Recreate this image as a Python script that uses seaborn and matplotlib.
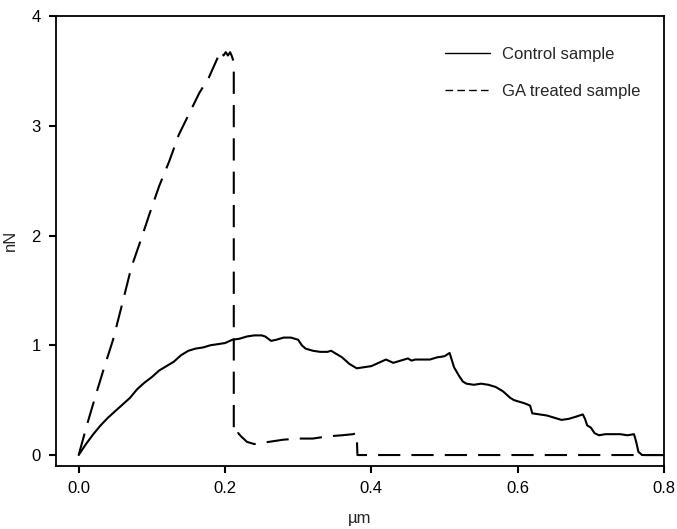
import matplotlib
matplotlib.use("Agg")
import matplotlib.pyplot as plt
from matplotlib.lines import Line2D
import seaborn as sns
import pandas as pd

# ---- data ----
control_x = [0, 0.01, 0.02, 0.03, 0.04, 0.05, 0.06, 0.07, 0.08, 0.09,
             0.10, 0.11, 0.12, 0.13, 0.14, 0.15, 0.16, 0.17, 0.18, 0.19,
             0.20, 0.21, 0.22, 0.23, 0.24, 0.25, 0.255, 0.263, 0.27, 0.28,
             0.29, 0.30, 0.305, 0.31, 0.32, 0.33, 0.34, 0.345, 0.35, 0.36,
             0.37, 0.38, 0.39, 0.40, 0.41, 0.42, 0.43, 0.435, 0.44, 0.45,
             0.455, 0.46, 0.47, 0.48, 0.49, 0.50, 0.507, 0.513, 0.52, 0.525,
             0.53, 0.54, 0.55, 0.56, 0.57, 0.58, 0.59, 0.595, 0.60, 0.61,
             0.617, 0.62, 0.63, 0.64, 0.65, 0.66, 0.67, 0.68, 0.689, 0.692,
             0.695, 0.70, 0.705, 0.711, 0.72, 0.73, 0.74, 0.75, 0.759, 0.762,
             0.765, 0.77, 0.78, 0.80]
control_y = [0, 0.10, 0.19, 0.27, 0.34, 0.40, 0.46, 0.52, 0.60, 0.66,
             0.71, 0.77, 0.81, 0.85, 0.91, 0.95, 0.97, 0.98, 1.00, 1.01,
             1.02, 1.05, 1.06, 1.08, 1.09, 1.09, 1.08, 1.04, 1.05, 1.07,
             1.07, 1.05, 1.00, 0.97, 0.95, 0.94, 0.94, 0.95, 0.93, 0.89,
             0.83, 0.79, 0.80, 0.81, 0.84, 0.87, 0.84, 0.85, 0.86, 0.88,
             0.86, 0.87, 0.87, 0.87, 0.89, 0.90, 0.93, 0.80, 0.72, 0.67,
             0.65, 0.64, 0.65, 0.64, 0.62, 0.58, 0.52, 0.50, 0.49, 0.47,
             0.45, 0.38, 0.37, 0.36, 0.34, 0.32, 0.33, 0.35, 0.37, 0.33,
             0.27, 0.25, 0.20, 0.18, 0.19, 0.19, 0.19, 0.18, 0.19, 0.12,
             0.03, 0.0, 0.0, 0.0]

ga_x = [0, 0.012, 0.024, 0.035, 0.047, 0.06, 0.072, 0.085, 0.097, 0.11,
        0.124, 0.137, 0.151, 0.165, 0.178, 0.186, 0.192, 0.195, 0.198, 0.201,
        0.204, 0.207, 0.209, 0.211, 0.212, 0.212, 0.214, 0.218, 0.222, 0.23,
        0.24, 0.25, 0.26, 0.28, 0.30, 0.32, 0.34, 0.36, 0.375, 0.380,
        0.381, 0.80]
ga_y = [0, 0.29, 0.56, 0.80, 1.05, 1.39, 1.71, 1.96, 2.20, 2.45,
        2.68, 2.92, 3.11, 3.30, 3.44, 3.56, 3.65, 3.68, 3.64, 3.67,
        3.64, 3.67, 3.64, 3.60, 3.55, 0.25, 0.18, 0.20, 0.17, 0.12,
        0.10, 0.11, 0.12, 0.14, 0.15, 0.15, 0.17, 0.18, 0.19, 0.20,
        0.0, 0.0]

series_labels = ["Control sample", "GA treated sample"]
x_ticks = [0.0, 0.2, 0.4, 0.6, 0.8]
y_ticks = [0, 1, 2, 3, 4]

# ---- style ----
sns.set_style("ticks")
plt.rcParams['font.family'] = ['Liberation Sans', 'DejaVu Sans']
plt.rcParams['lines.scale_dashes'] = False

fig = plt.figure(figsize=(6.77, 5.29), dpi=100)
ax = fig.add_axes([0.0827, 0.1197, 0.8981, 0.8501])

df_c = pd.DataFrame({"x": control_x, "y": control_y})
df_g = pd.DataFrame({"x": ga_x, "y": ga_y})

sns.lineplot(data=df_c, x="x", y="y", ax=ax, sort=False, estimator=None,
             color="black", linewidth=1.5)
sns.lineplot(data=df_g, x="x", y="y", ax=ax, sort=False, estimator=None,
             color="black", linewidth=1.5, dashes=False)
ax.lines[-1].set_dashes((16, 8))

ax.set_xlim(-0.031, 0.8)
ax.set_ylim(-0.097, 4)
ax.set_xticks(x_ticks)
ax.set_xticklabels([f"{v:.1f}" for v in x_ticks])
ax.set_yticks(y_ticks)
ax.set_yticklabels([str(v) for v in y_ticks])

for s in ax.spines.values():
    s.set_visible(True)
    s.set_linewidth(1.3)
    s.set_color("black")
ax.tick_params(direction="out", length=5, width=1.5, labelsize=12,
               colors="black", pad=6)

ax.set_xlabel("\u00b5m", fontsize=12, labelpad=11)
ax.set_ylabel("nN", fontsize=12, labelpad=10)

handles = [Line2D([0], [0], color="black", lw=1.0),
           Line2D([0], [0], color="black", lw=1.0, dashes=(5.5, 3))]
ax.legend(handles, series_labels, loc="upper left", frameon=False,
          fontsize=12, handlelength=2.7, handletextpad=0.7,
          labelspacing=1.3, borderpad=0, borderaxespad=0,
          bbox_to_anchor=(0.64, 0.931))

fig.savefig("out.png", dpi=100)
